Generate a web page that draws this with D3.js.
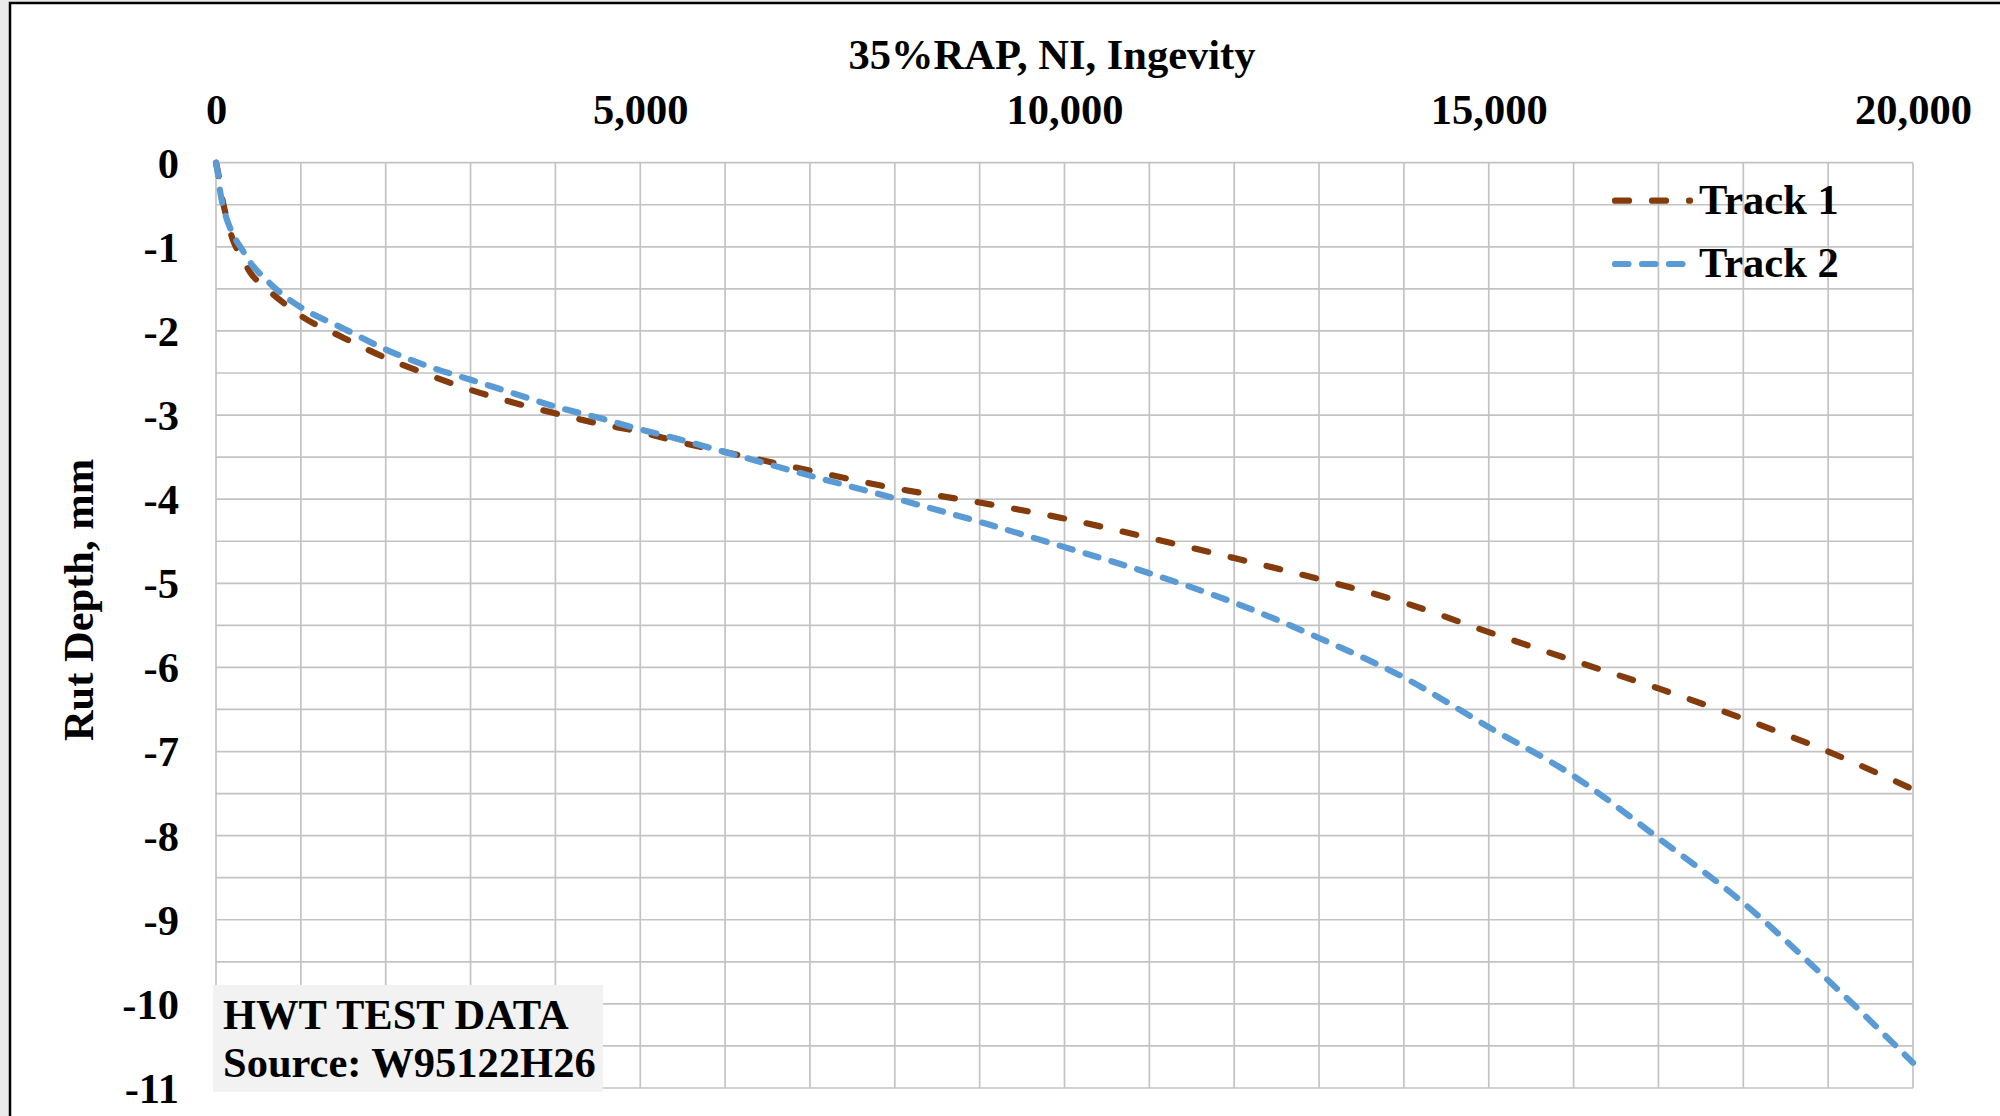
<!DOCTYPE html>
<html>
<head>
<meta charset="utf-8">
<script src="https://cdn.jsdelivr.net/npm/d3@7"></script>
<style>
  html, body { margin: 0; padding: 0; background: #EBEBEB; }
  svg { display: block; }
  text { font-family: "Liberation Serif", "Times New Roman", serif; font-weight: bold; fill: #000; }
</style>
</head>
<body>
<script>
// ---- data ----
const chartTitle = "35%RAP, NI, Ingevity";
const yTitle = "Rut Depth, mm";
const seriesNames = ["Track 1", "Track 2"];
const cycles = [0, 25, 50, 100, 200, 300, 400, 600, 800, 1000, 1500, 2000, 2500, 3000, 3500, 4000, 4500, 5000, 5500, 6000, 7000, 8000, 9000, 10000, 11000, 12000, 13000, 14000, 15000, 16000, 17000, 18000, 19000, 20000];
const track1 = [0, -0.12, -0.3, -0.55, -0.92, -1.12, -1.3, -1.5, -1.67, -1.82, -2.08, -2.32, -2.52, -2.7, -2.85, -2.98, -3.1, -3.2, -3.33, -3.44, -3.66, -3.87, -4.04, -4.23, -4.46, -4.7, -4.95, -5.23, -5.58, -5.92, -6.25, -6.61, -7.0, -7.45];
const track2 = [0, -0.15, -0.35, -0.58, -0.85, -1.02, -1.18, -1.4, -1.58, -1.72, -1.97, -2.22, -2.42, -2.58, -2.74, -2.9, -3.03, -3.17, -3.3, -3.44, -3.72, -3.99, -4.27, -4.57, -4.88, -5.23, -5.65, -6.12, -6.71, -7.29, -8.03, -8.8, -9.72, -10.7];
const xTickLabels = [0, 5000, 10000, 15000, 20000];
const yTickLabels = [0, -1, -2, -3, -4, -5, -6, -7, -8, -9, -10, -11];
const noteLines = ["HWT TEST DATA", "Source: W95122H26"];

// ---- layout ----
const W = 2000, H = 1116;
const plot = { left: 216, right: 1913, top: 162.7, bottom: 1088 };
const FS = 42.5;

const svg = d3.select("body").append("svg").attr("width", W).attr("height", H);

// chart frame
svg.append("rect").attr("x", 10).attr("y", 3).attr("width", W + 20).attr("height", H + 20)
  .attr("fill", "#fff").attr("stroke", "#000").attr("stroke-width", 2.5);

const x = d3.scaleLinear().domain([0, 20000]).range([plot.left, plot.right]);
const y = d3.scaleLinear().domain([0, -11]).range([plot.top, plot.bottom]);

// gridlines
const grid = svg.append("g");
grid.selectAll("line.v").data(d3.range(0, 20001, 1000)).join("line")
  .attr("x1", d => x(d)).attr("x2", d => x(d))
  .attr("y1", plot.top).attr("y2", plot.bottom)
  .attr("stroke", "#C3C3C3").attr("stroke-width", 1.7);
grid.selectAll("line.h").data(d3.range(0, 23).map(i => -i * 0.5)).join("line")
  .attr("x1", plot.left).attr("x2", plot.right)
  .attr("y1", d => y(d)).attr("y2", d => y(d))
  .attr("stroke", "#C3C3C3").attr("stroke-width", 1.7);

// top x axis
const xAxis = d3.axisTop(x).tickValues(xTickLabels).tickFormat(d3.format(",")).tickSize(0).tickPadding(0);
const gx = svg.append("g").attr("transform", `translate(0,124)`).call(xAxis);
gx.select(".domain").remove();
gx.selectAll("text").attr("font-size", FS).attr("font-family", null).attr("dy", 0)
  .style("font-family", '"Liberation Serif", serif').style("font-weight", "bold");

// left y axis (plain hyphen minus)
const yAxis = d3.axisLeft(y).tickValues(yTickLabels).tickFormat(d => String(d)).tickSize(0).tickPadding(0);
const gy = svg.append("g").attr("transform", `translate(179,0)`).call(yAxis);
gy.select(".domain").remove();
gy.selectAll("text").attr("font-size", FS).attr("font-family", null).attr("dy", "0.34em").attr("x", 0)
  .style("font-family", '"Liberation Serif", serif').style("font-weight", "bold");

// titles
svg.append("text").attr("x", 1052).attr("y", 69).attr("text-anchor", "middle")
  .attr("font-size", FS).text(chartTitle);
svg.append("text").attr("transform", "translate(93,600) rotate(-90)").attr("text-anchor", "middle")
  .attr("font-size", FS).text(yTitle);

// series
const colors = ["#843C0C", "#5B9BD5"];
const dashes = ["14 23", "13.5 13.5"];
const series = [track1, track2];
const line = d3.line().x(d => x(d[0])).y(d => y(d[1])).curve(d3.curveMonotoneX);
series.forEach((vals, i) => {
  svg.append("path").datum(cycles.map((c, k) => [c, vals[k]]))
    .attr("d", line).attr("fill", "none")
    .attr("stroke", colors[i]).attr("stroke-width", 6.2)
    .attr("stroke-linecap", "round").attr("stroke-dasharray", dashes[i]);
});

// legend
const legendY = [200.7, 264];
seriesNames.forEach((name, i) => {
  svg.append("line").attr("x1", 1615).attr("x2", 1690).attr("y1", legendY[i]).attr("y2", legendY[i])
    .attr("stroke", colors[i]).attr("stroke-width", 6.2).attr("stroke-linecap", "round")
    .attr("stroke-dasharray", dashes[i]);
  svg.append("text").attr("x", 1699).attr("y", legendY[i] + 13).attr("font-size", FS).text(name);
});

// note box
svg.append("rect").attr("x", 213).attr("y", 985).attr("width", 390).attr("height", 107).attr("fill", "#F2F2F2");
noteLines.forEach((t, i) => {
  svg.append("text").attr("x", 223).attr("y", 1029 + i * 48).attr("font-size", FS).text(t);
});
</script>
</body>
</html>
